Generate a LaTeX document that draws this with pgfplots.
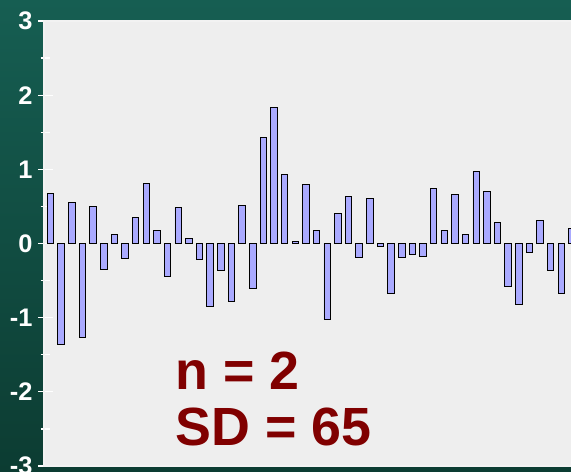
\documentclass[border=0pt]{standalone}
\usepackage{fontspec}
\setmainfont{Liberation Sans}
\usepackage{pgfplots}
\usepackage{pgfplotstable}
\pgfplotsset{compat=1.18}
\definecolor{bgtop}{RGB}{22,94,82}
\definecolor{bgbot}{RGB}{12,60,50}
\definecolor{plotbg}{RGB}{238,238,238}
\definecolor{barfill}{RGB}{170,170,255}
\definecolor{txtred}{RGB}{128,0,0}
\pgfplotstableread{
x y
1 0.676
2 -1.365
3 0.55
4 -1.266
5 0.495
6 -0.347
7 0.117
8 -0.207
9 0.347
10 0.81
11 0.176
12 -0.45
13 0.48
14 0.072
15 -0.212
16 -0.851
17 -0.365
18 -0.779
19 0.518
20 -0.608
21 1.432
22 1.833
23 0.932
24 0.03
25 0.795
26 0.176
27 -1.027
28 0.401
29 0.64
30 -0.194
31 0.604
32 -0.036
33 -0.676
34 -0.194
35 -0.144
36 -0.176
37 0.742
38 0.176
39 0.658
40 0.117
41 0.968
42 0.707
43 0.279
44 -0.577
45 -0.815
46 -0.122
47 0.311
48 -0.365
49 -0.676
50 0.207
}\datatable
\begin{document}
\begin{tikzpicture}[x=1bp,y=1bp]
\path[use as bounding box] (0,0) rectangle (571,472);
\clip (0,0) rectangle (571,472);
\shade[top color=bgtop,bottom color=bgbot] (0,0) rectangle (571,472);
\begin{axis}[
  at={(44bp,6bp)}, anchor=south west,
  scale only axis, width=536bp, height=445bp,
  xmin=0.389, xmax=50.76, ymin=-3, ymax=3,
  axis background/.style={fill=plotbg},
  axis line style={white!90!gray, line width=1.6bp},
  xtick=\empty,
  ytick={-3,-2,-1,0,1,2,3},
  yticklabels={-3,-2,-1,0,1,2,3},
  minor ytick={-2.5,-1.5,-0.5,0.5,1.5,2.5},
  tick align=center,
  major tick length=14.5bp, minor tick length=9.7bp,
  tick style={white, line width=1.2bp, xshift=1.5bp},
  yticklabel style={font=\fontsize{25.5}{25.5}\selectfont\bfseries, text=white, inner sep=0pt, xshift=-4bp},
  ybar, bar width=0.61,
]
\addplot[fill=barfill, draw=black, line width=0.8bp] table[x=x,y=y] {\datatable};
\end{axis}
\node[anchor=base west, inner sep=0pt, text=txtred, font=\fontsize{54}{54}\selectfont\bfseries] at (175.5,82) {n = 2};
\node[anchor=base west, inner sep=0pt, text=txtred, font=\fontsize{54}{54}\selectfont\bfseries] at (175.5,26) {SD = 65};
\end{tikzpicture}
\end{document}
